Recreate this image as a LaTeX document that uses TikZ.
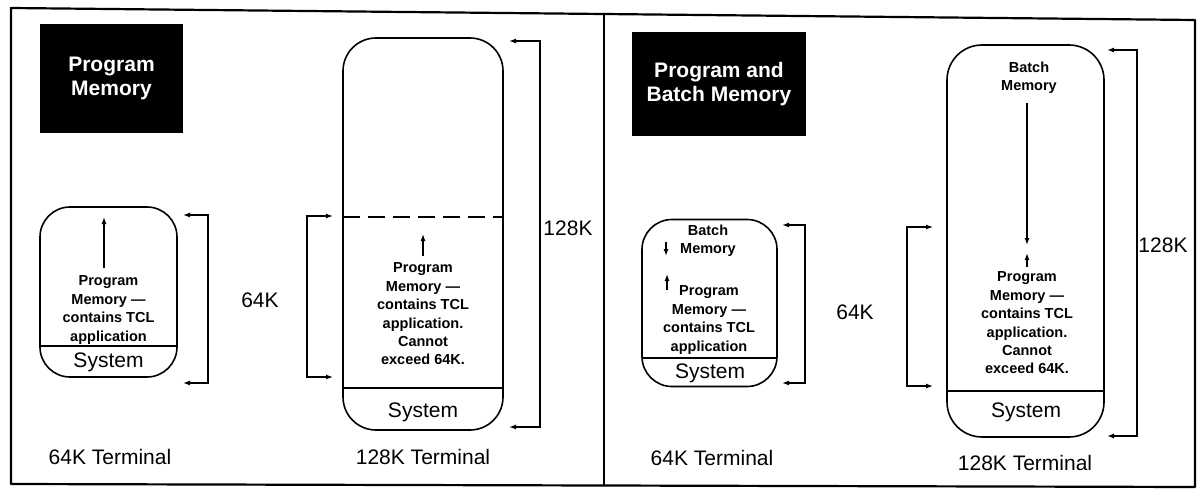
\documentclass[tikz,border=0pt]{standalone}
\usepackage{fontspec}
\setmainfont{Liberation Sans}
\usetikzlibrary{arrows.meta}
\tikzset{
  big/.style={font=\fontsize{21}{24}\selectfont, inner sep=0pt},
  small/.style={font=\bfseries\fontsize{14.5}{18.4}\selectfont, align=center, inner sep=0pt},
  head/.style={fill=black, text=white, font=\bfseries\fontsize{21}{24}\selectfont, align=center, inner sep=0pt},
  mem/.style={draw, line width=1.6pt, rounded corners=30pt, inner sep=0pt},
  divider/.style={line width=1.6pt},
  arr/.style={line width=1.3pt, -{Latex[length=7pt,width=5pt]}},
  brk/.style={line width=1.3pt, {Latex[length=7pt,width=5pt]}-{Latex[length=7pt,width=5pt]}},
  frame/.style={line width=2.2pt, line join=round}
}
\begin{document}
\begin{tikzpicture}[x=1pt,y=-1pt]
\useasboundingbox (0,0) rectangle (1198,489);
% frame
\coordinate (f1) at (11,8);
\coordinate (f2) at (1195,20);
\coordinate (f3) at (1195,487);
\coordinate (f4) at (11,484);
\coordinate (d1) at (604,13);
\coordinate (d2) at (604,485);
\draw[frame] (f1) -- (f2) -- (f3) -- (f4) -- cycle;
\draw[frame] (d1) -- (d2);

% ================= left panel =================
\node[head, minimum width=143pt, minimum height=109pt] (h1) at (111.5,78.5) {Program\\Memory};

% 64K terminal
\node[mem, minimum width=137pt, minimum height=170pt] (b1) at (108.5,292) {};
\coordinate (b1l) at (40,346); \coordinate (b1r) at (177,346);
\draw[divider] (b1l) -- (b1r);
\node[small] (p1) at (108.5,310) {Program\\Memory —\\contains TCL\\application};
\coordinate (a1s) at (104,268); \coordinate (a1e) at (104,217);
\draw[arr] (a1s) -- (a1e);
\node[big] (s1) at (108.5,362) {System};
\coordinate (k1a) at (183,215); \coordinate (k1b) at (208,215);
\coordinate (k1c) at (208,383); \coordinate (k1d) at (183,383);
\draw[brk] (k1a) -- (k1b) -- (k1c) -- (k1d);
\node[big] (l1) at (260,300) {64K};
\node[big] (t1) at (110,457) {64K Terminal};

% 128K terminal
\node[mem, minimum width=160pt, minimum height=392pt, rounded corners=33pt] (b2) at (423,234) {};
\coordinate (b2dl) at (343,217); \coordinate (b2dr) at (503,217);
\draw[divider, dash pattern=on 17pt off 8pt] (b2dl) -- (b2dr);
\coordinate (b2l) at (343,388); \coordinate (b2r) at (503,388);
\draw[divider] (b2l) -- (b2r);
\coordinate (a2s) at (423,256); \coordinate (a2e) at (423,234);
\draw[arr] (a2s) -- (a2e);
\node[small] (p2) at (423,314) {Program\\Memory —\\contains TCL\\application.\\Cannot\\exceed 64K.};
\node[big] (s2) at (423,412) {System};
\coordinate (k2a) at (333,216); \coordinate (k2b) at (307,216);
\coordinate (k2c) at (307,377); \coordinate (k2d) at (333,377);
\draw[brk] (k2a) -- (k2b) -- (k2c) -- (k2d);
\coordinate (k3a) at (509,41); \coordinate (k3b) at (540,41);
\coordinate (k3c) at (540,427); \coordinate (k3d) at (509,427);
\draw[brk] (k3a) -- (k3b) -- (k3c) -- (k3d);
\node[big] (l2) at (568,228) {128K};
\node[big] (t2) at (423,457) {128K Terminal};

% ================= right panel =================
\node[head, minimum width=174pt, minimum height=104pt] (h2) at (719,84) {Program and\\Batch Memory};

% 64K terminal
\node[mem, minimum width=135pt, minimum height=167pt] (b3) at (709.5,303) {};
\coordinate (b3l) at (642,358); \coordinate (b3r) at (777,358);
\draw[divider] (b3l) -- (b3r);
\node[small] (bm3) at (708,241) {Batch\\Memory};
\coordinate (a3s) at (666,242); \coordinate (a3e) at (666,256);
\draw[arr] (a3s) -- (a3e);
\coordinate (a4s) at (667,290); \coordinate (a4e) at (667,274);
\draw[arr] (a4s) -- (a4e);
\node[small] (p3) at (709,320) {Program\\Memory —\\contains TCL\\application};
\node[big] (s3) at (710,373) {System};
\coordinate (k4a) at (782,225); \coordinate (k4b) at (805,225);
\coordinate (k4c) at (805,383); \coordinate (k4d) at (782,383);
\draw[brk] (k4a) -- (k4b) -- (k4c) -- (k4d);
\node[big] (l3) at (855,312) {64K};
\node[big] (t3) at (712,458) {64K Terminal};

% 128K terminal
\node[mem, minimum width=157pt, minimum height=392pt, rounded corners=35pt] (b4) at (1025.5,241) {};
\coordinate (b4l) at (947,391); \coordinate (b4r) at (1104,391);
\draw[divider] (b4l) -- (b4r);
\node[small] (bm4) at (1029,78) {Batch\\Memory};
\coordinate (a5s) at (1027,103); \coordinate (a5e) at (1027,245);
\draw[arr] (a5s) -- (a5e);
\coordinate (a6s) at (1027,267); \coordinate (a6e) at (1027,253);
\draw[arr] (a6s) -- (a6e);
\node[small] (p4) at (1027,323) {Program\\Memory —\\contains TCL\\application.\\Cannot\\exceed 64K.};
\node[big] (s4) at (1026,412) {System};
\coordinate (k5a) at (933,227); \coordinate (k5b) at (907,227);
\coordinate (k5c) at (907,386); \coordinate (k5d) at (933,386);
\draw[brk] (k5a) -- (k5b) -- (k5c) -- (k5d);
\coordinate (k6a) at (1107,50); \coordinate (k6b) at (1137,50);
\coordinate (k6c) at (1137,436); \coordinate (k6d) at (1107,436);
\draw[brk] (k6a) -- (k6b) -- (k6c) -- (k6d);
\node[big] (l4) at (1163,245) {128K};
\node[big] (t4) at (1025,463) {128K Terminal};
\end{tikzpicture}
\end{document}
